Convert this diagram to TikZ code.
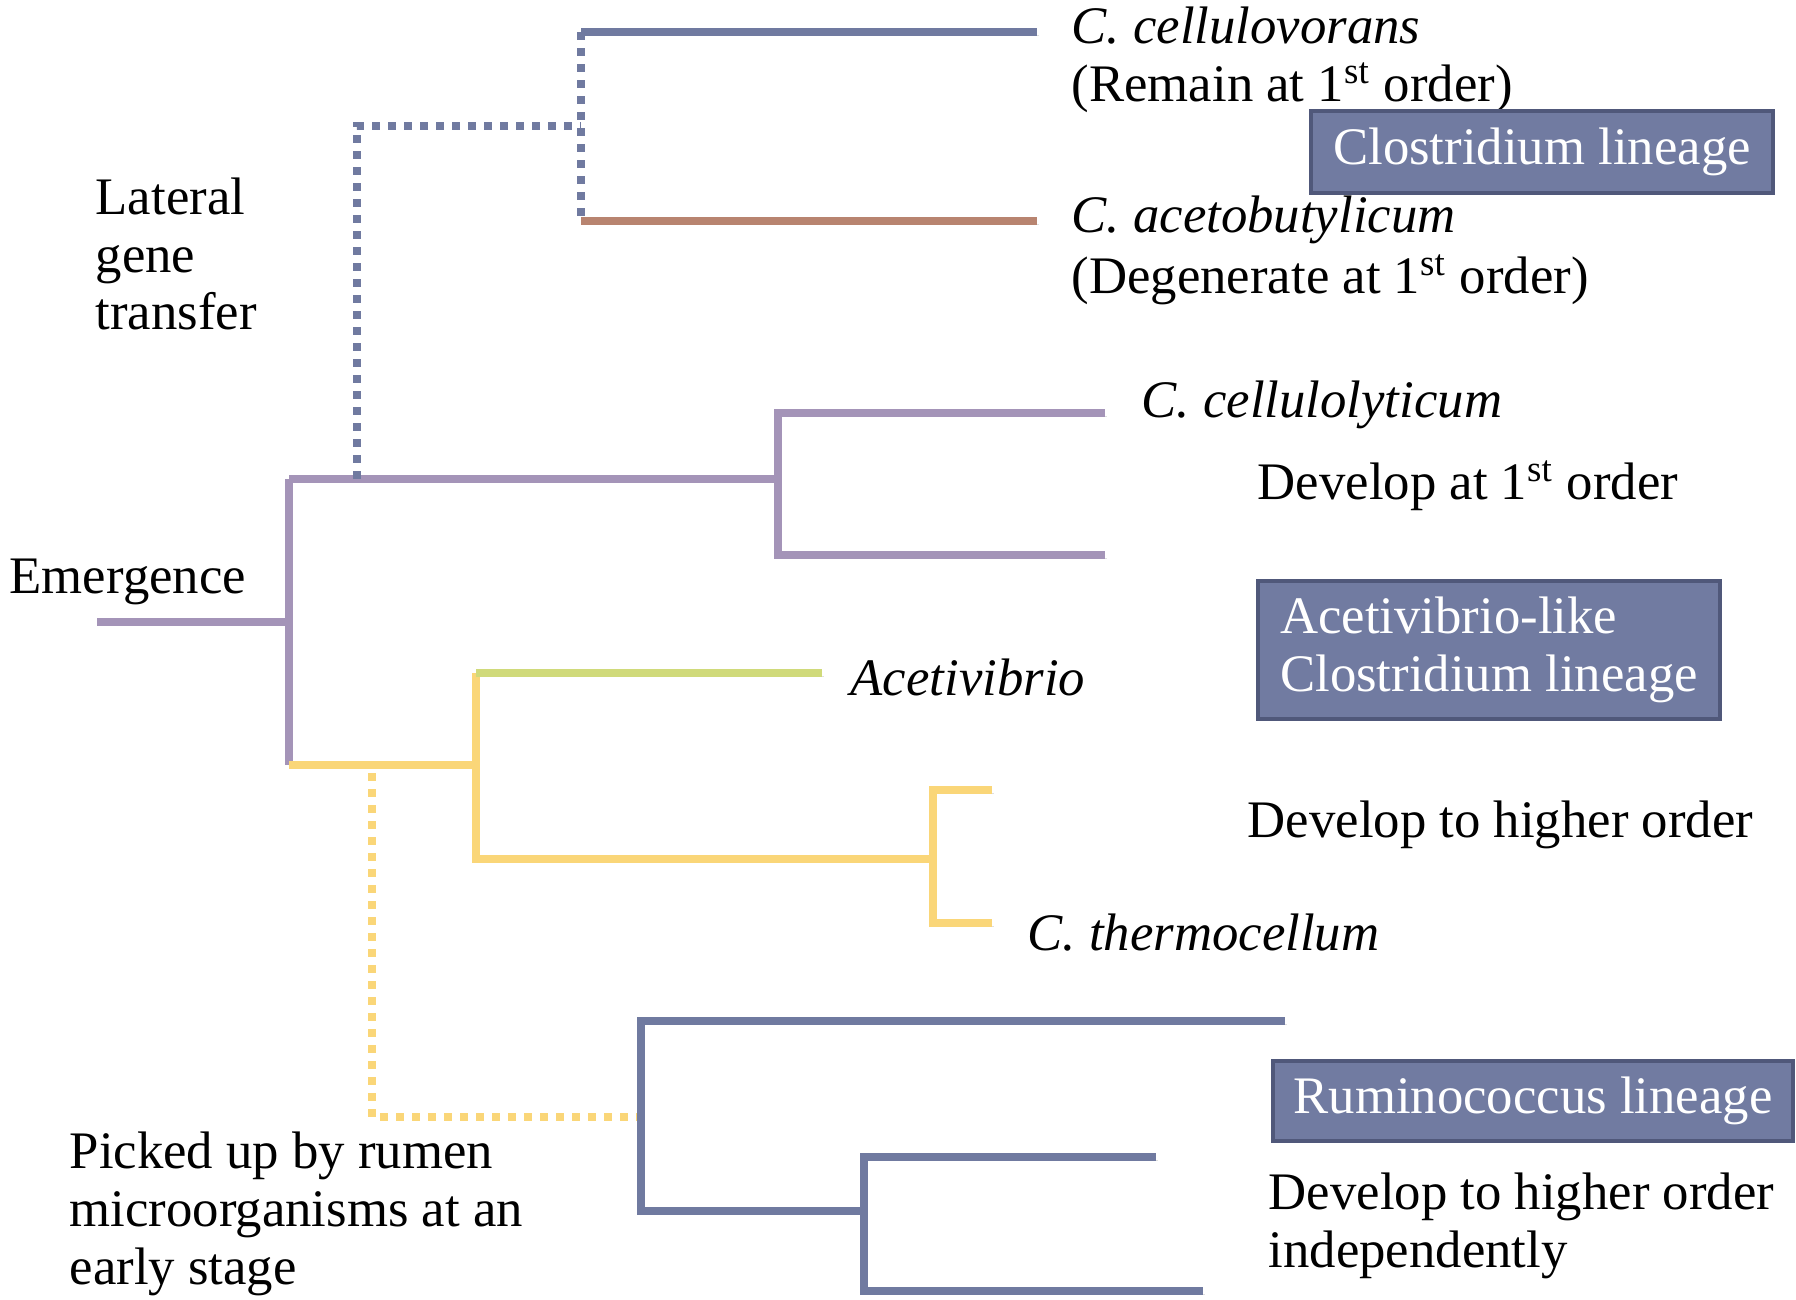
\documentclass[tikz,border=0pt]{standalone}
\usepackage{fontspec}
\setmainfont{Liberation Serif}
\usepackage{tikz}

\definecolor{slate}{RGB}{112,122,160}
\definecolor{rust}{RGB}{184,132,112}
\definecolor{lilac}{RGB}{164,148,184}
\definecolor{lime}{RGB}{208,218,122}
\definecolor{sand}{RGB}{250,214,120}
\definecolor{boxfill}{RGB}{113,123,161}
\definecolor{boxedge}{RGB}{80,88,122}

\tikzset{
    shade line/.style={preaction={draw=black, opacity=0.12,
        transform canvas={shift={(0.02cm,-0.035cm)}}}},
    branch/.style={line width=0.08cm, line join=miter, shade line},
    transfer/.style={line width=0.075cm, dash pattern=on 0.075cm off 0.085cm},
    txt/.style={anchor=west, inner sep=0pt, align=left},
    lineage/.style={draw=boxedge, fill=boxfill, text=white, line width=1.3pt,
        inner xsep=0.2cm, inner ysep=0pt}
}

\begin{document}
\begin{tikzpicture}[x=0.01cm,y=-0.01cm,
        every node/.style={font=\fontsize{15}{16.4}\selectfont}]
                \useasboundingbox (0,0) rectangle (1796,1300);

                % tree points
                \coordinate (root) at (97,622);
                \coordinate (emtop) at (289,479);
                \coordinate (embot) at (289,765);
                \coordinate (purpfork) at (778,479);
                \coordinate (lgt) at (357,479);
                \coordinate (lgtturn) at (357,126);
                \coordinate (clofork) at (581,126);
                \coordinate (yelfork) at (476,765);
                \coordinate (thermofork) at (933,859);
                \coordinate (rumen) at (372,773);
                \coordinate (rumenturn) at (372,1117);
                \coordinate (rumfork) at (641,1117);
                \coordinate (rumsub) at (864,1211);

                % emergence
                \draw[branch, lilac] (root) -- (emtop |- root);
                \draw[branch, lilac] (emtop) -- (embot);
                \draw[branch, lilac] (emtop) -- (purpfork);
                \draw[branch, lilac] (1105,413) -- (778,413) -- (778,555) -- (1105,555);

                % lateral gene transfer
                \draw[transfer, slate] (lgt) -- (lgtturn) -- (clofork);
                \draw[transfer, slate] (581,32) -- (581,221);
                \draw[branch, slate] (581,32) -- (1037,32);
                \draw[branch, rust] (581,221) -- (1037,221);

                % acetivibrio-like
                \draw[branch, sand] (embot) -- (yelfork);
                \draw[branch, sand] (476,673) -- (476,859) -- (thermofork);
                \draw[branch, lime] (476,673) -- (822,673);
                \draw[branch, sand] (992,790) -- (933,790) -- (933,923) -- (992,923);

                % ruminococcus
                \draw[transfer, sand] (rumen) -- (rumenturn) -- (rumfork);
                \draw[branch, slate] (1285,1021) -- (641,1021) -- (641,1211) -- (rumsub);
                \draw[branch, slate] (1156,1157) -- (864,1157) -- (864,1291) -- (1203,1291);

                % labels
                \node[txt] (lateral) at (95,254) {Lateral\\gene\\transfer};
                \node[txt] (emergence) at (9,582) {Emergence};
                \node[txt] (picked) at (69,1214) {Picked up by rumen\\microorganisms at an\\early stage};

                \node[txt] (cellulovorans) at (1071,26) {\textit{C. cellulovorans}};
                \node[txt] (remain) at (1071,88) {(Remain at 1\textsuperscript{st} order)};
                \node[txt] (acetobutylicum) at (1071,220) {\textit{C. acetobutylicum}};
                \node[txt] (degenerate) at (1071,280) {(Degenerate at 1\textsuperscript{st} order)};
                \node[txt] (cellulolyticum) at (1141,405) {\textit{C. cellulolyticum}};
                \node[txt] (developfirst) at (1257,486) {Develop at 1\textsuperscript{st} order};
                \node[txt] (acetivibrio) at (850,677) {\textit{Acetivibrio}};
                \node[txt] (develophigh) at (1247,825) {Develop to higher order};
                \node[txt] (thermocellum) at (1027,933) {\textit{C. thermocellum}};
                \node[txt] (independent) at (1268,1226) {Develop to higher order\\independently};

                % lineage boxes
                \node[lineage, minimum width=4.62cm, minimum height=0.82cm]
                    (clostridium) at (1542,152) {Clostridium lineage};
                \node[lineage, align=left, minimum width=4.62cm, minimum height=1.38cm]
                    (acetilike) at (1489,650) {Acetivibrio-like\\Clostridium lineage};
                \node[lineage, minimum width=5.2cm, minimum height=0.8cm]
                    (ruminococcus) at (1533,1101) {Ruminococcus lineage};
            \end{tikzpicture}
\end{document}
